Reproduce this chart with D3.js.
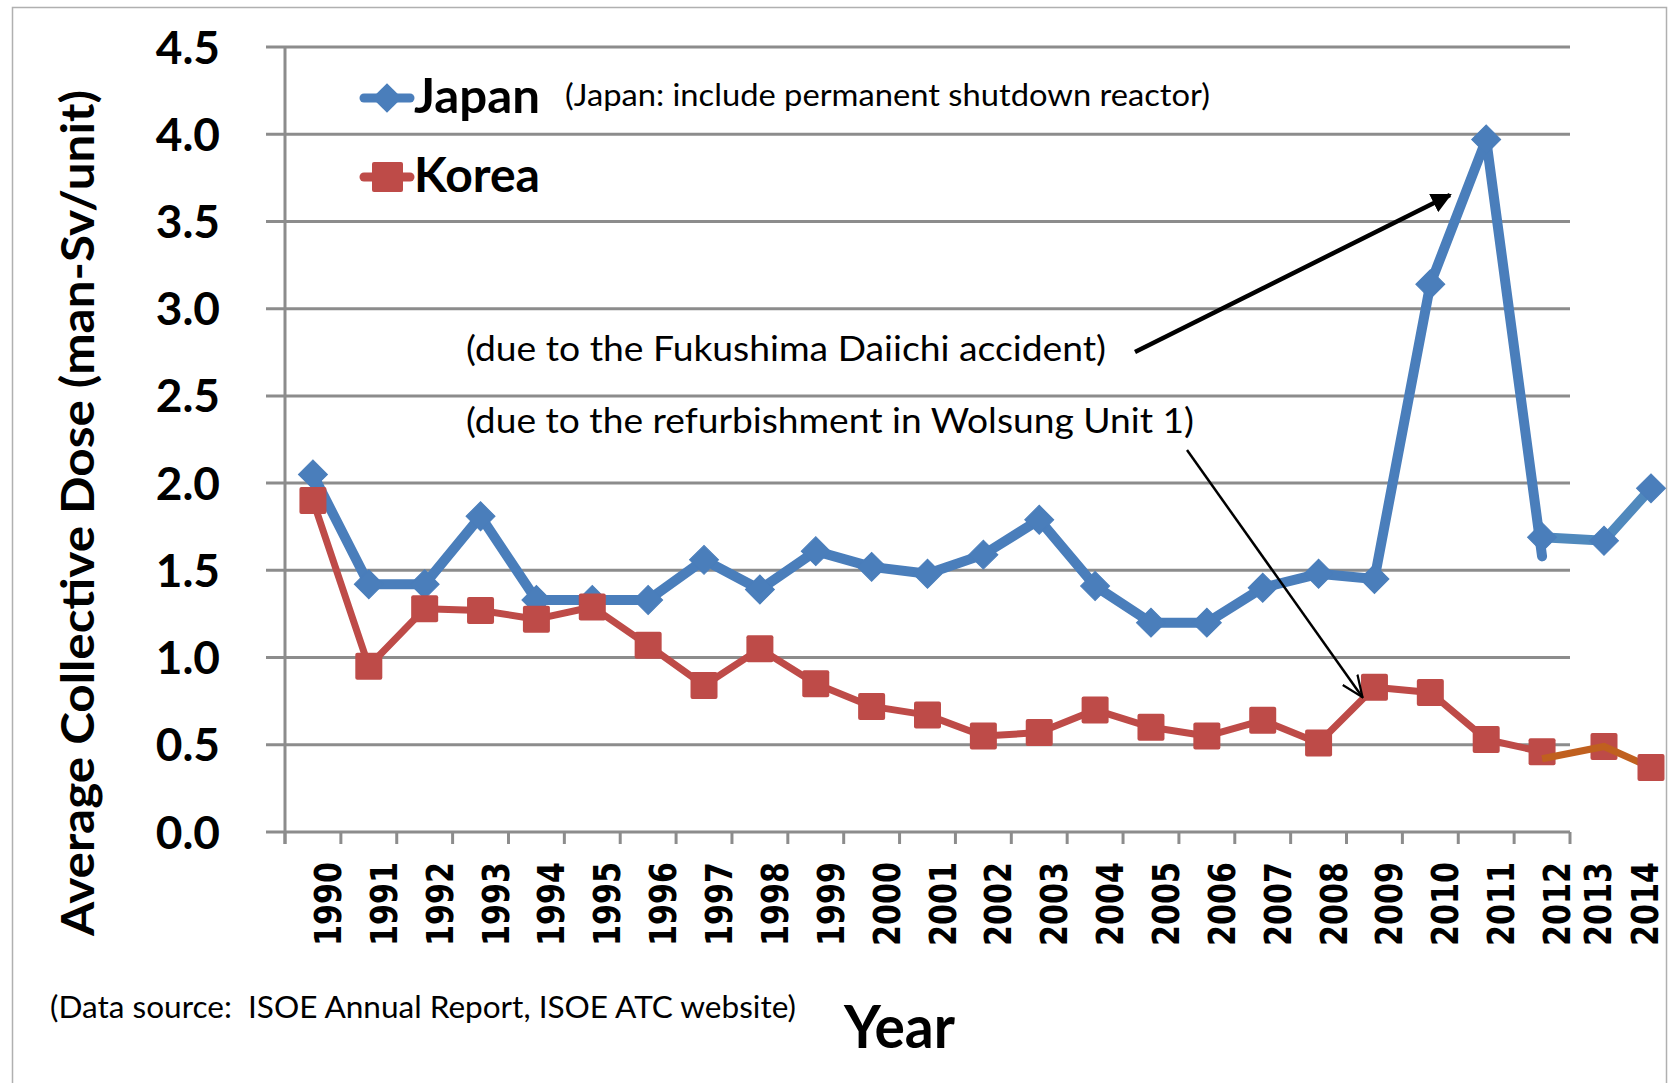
<!DOCTYPE html>
<html>
<head>
<meta charset="utf-8">
<script src="https://cdn.jsdelivr.net/npm/d3@7"></script>
<style>
  body { margin: 0; background: #fff; }
  svg { display: block; }
  text { white-space: pre; }
</style>
</head>
<body>
<div id="chart"></div>
<script>
// Values
const years = [1990, 1991, 1992, 1993, 1994, 1995, 1996, 1997, 1998, 1999, 2000, 2001, 2002,
               2003, 2004, 2005, 2006, 2007, 2008, 2009, 2010, 2011, 2012, 2013, 2014];
const japan = [2.05, 1.42, 1.42, 1.81, 1.33, 1.33, 1.33, 1.56, 1.39, 1.61, 1.52, 1.48, 1.59,
               1.79, 1.41, 1.20, 1.20, 1.40, 1.48, 1.45, 3.14, 3.97, 1.69, 1.67, 1.97];
const korea = [1.90, 0.95, 1.28, 1.27, 1.22, 1.29, 1.07, 0.84, 1.05, 0.85, 0.72, 0.67, 0.55,
               0.57, 0.70, 0.60, 0.55, 0.64, 0.51, 0.83, 0.80, 0.53, 0.46, 0.49, 0.37];
// the 2012 value before the later correction (end of the old Japan line)
const japanOld2012 = 1.58;
// hand-drawn update segment for Korea 2012-2014
const koreaUpdate = [0.42, 0.49, 0.37];
const yTicks = [0, 0.5, 1, 1.5, 2, 2.5, 3, 3.5, 4, 4.5];

const width = 1668, height = 1083;
const svg = d3.select("#chart").append("svg")
    .attr("width", width)
    .attr("height", height);

// outer frame
svg.append("rect")
    .attr("x", 12.5).attr("y", 7.5)
    .attr("width", 1654).attr("height", 1100)
    .attr("fill", "none")
    .attr("stroke", "#b0b0b0")
    .attr("stroke-width", 1.5);

const axisLeft = 285, axisRight = 1570;
const y = d3.scaleLinear().domain([0, 4.5]).range([832, 47]);
// band centres 1990..2012 in Excel's axis, 2013/2014 squeezed in past the axis end
const step = (axisRight - axisLeft) / 23;
const x = d3.scaleLinear()
    .domain([1990, 2012, 2013, 2014])
    .range([axisLeft + step / 2, axisLeft + 22.5 * step, 1604, 1651]);

const gridColor = "#8c8c8c";

// gridlines + y axis
svg.append("g")
    .selectAll("line")
    .data(yTicks)
    .enter().append("line")
    .attr("x1", 266).attr("x2", axisRight)
    .attr("y1", d => y(d)).attr("y2", d => y(d))
    .attr("stroke", gridColor)
    .attr("stroke-width", 3);

svg.append("line")
    .attr("x1", axisLeft).attr("x2", axisLeft)
    .attr("y1", y(4.5)).attr("y2", y(0) + 12)
    .attr("stroke", gridColor)
    .attr("stroke-width", 3);

// category tick marks
svg.append("g")
    .selectAll("line")
    .data(d3.range(24))
    .enter().append("line")
    .attr("x1", i => axisLeft + i * step).attr("x2", i => axisLeft + i * step)
    .attr("y1", y(0)).attr("y2", y(0) + 12)
    .attr("stroke", gridColor)
    .attr("stroke-width", 3);

// y tick labels
svg.append("g")
    .selectAll("text")
    .data(yTicks)
    .enter().append("text")
    .attr("x", 220)
    .attr("y", d => y(d))
    .attr("dy", "0.36em")
    .attr("text-anchor", "end")
    .attr("font-family", "Lato, sans-serif")
    .attr("font-weight", "bold")
    .attr("font-size", 46)
    .text(d => d.toFixed(1));

// x tick labels (rotated)
svg.append("g")
    .selectAll("text")
    .data(years)
    .enter().append("text")
    .attr("transform", d => `translate(${x(d) + (d <= 2012 ? 28 : 7)},862) rotate(-90)`)
    .attr("text-anchor", "end")
    .attr("font-family", "DejaVu Sans, sans-serif")
    .attr("font-weight", "bold")
    .attr("font-size", 37)
    .attr("textLength", 84)
    .attr("lengthAdjust", "spacingAndGlyphs")
    .text(d => d);

// axis titles
svg.append("text")
    .attr("transform", "translate(94,513) rotate(-90)")
    .attr("text-anchor", "middle")
    .attr("font-family", "Lato, sans-serif")
    .attr("font-weight", "bold")
    .attr("font-size", 45)
    .attr("textLength", 846)
    .attr("lengthAdjust", "spacingAndGlyphs")
    .text("Average Collective Dose (man-Sv/unit)");

svg.append("text")
    .attr("x", 844).attr("y", 1048)
    .attr("font-family", "Lato, sans-serif")
    .attr("font-weight", "bold")
    .attr("font-size", 60)
    .attr("textLength", 111)
    .attr("lengthAdjust", "spacingAndGlyphs")
    .text("Year");

svg.append("text")
    .attr("x", 50).attr("y", 1018)
    .attr("font-family", "Lato, sans-serif")
    .attr("font-size", 30)
    .attr("textLength", 746)
    .attr("lengthAdjust", "spacingAndGlyphs")
    .text("(Data source:  ISOE Annual Report, ISOE ATC website)");

const blue = "#4a7ebb", blue2 = "#5089bd", red = "#be4b48", orange = "#c0601f";

const line = d3.line().x(d => x(d.year)).y(d => y(d.v));
const japanPts = years.map((yr, i) => ({ year: yr, v: japan[i] }));
const koreaPts = years.map((yr, i) => ({ year: yr, v: korea[i] }));

// Japan: old Excel line up to 2012, then the updated segment
const japanOld = japanPts.filter(d => d.year <= 2011).concat([{ year: 2012, v: japanOld2012 }]);
svg.append("path")
    .attr("d", line(japanOld))
    .attr("fill", "none")
    .attr("stroke", blue)
    .attr("stroke-width", 10)
    .attr("stroke-linejoin", "round")
    .attr("stroke-linecap", "round");
svg.append("path")
    .attr("d", line(japanPts.filter(d => d.year >= 2012)))
    .attr("fill", "none")
    .attr("stroke", blue2)
    .attr("stroke-width", 10);

const diamond = d3.symbol().type(d3.symbolSquare).size(420);
svg.append("g")
    .selectAll("path")
    .data(japanPts)
    .enter().append("path")
    .attr("d", diamond)
    .attr("transform", d => `translate(${x(d.year)},${y(d.v)}) rotate(45)`)
    .attr("fill", blue)
    .attr("stroke", blue)
    .attr("stroke-width", 1);

// Korea
svg.append("path")
    .attr("d", line(koreaPts.filter(d => d.year <= 2012)))
    .attr("fill", "none")
    .attr("stroke", red)
    .attr("stroke-width", 7)
    .attr("stroke-linejoin", "round");

const sq = 27;
function squares(g, data) {
    g.selectAll("rect")
        .data(data)
        .enter().append("rect")
        .attr("x", d => x(d.year) - sq / 2)
        .attr("y", d => y(d.v) - sq / 2)
        .attr("width", sq).attr("height", sq)
        .attr("rx", 2)
        .attr("fill", red);
}
svg.append("g").call(squares, koreaPts.filter(d => d.year <= 2013));

svg.append("path")
    .attr("d", line(koreaUpdate.map((v, i) => ({ year: 2012 + i, v: v }))))
    .attr("fill", "none")
    .attr("stroke", orange)
    .attr("stroke-width", 7);

svg.append("g").call(squares, koreaPts.filter(d => d.year === 2014));

// Legend
const legend = svg.append("g");
const legendItems = [
    { name: "Japan", color: blue, cy: 98 },
    { name: "Korea", color: red, cy: 177 }
];
legend.selectAll("line")
    .data(legendItems)
    .enter().append("line")
    .attr("x1", 364).attr("x2", 410)
    .attr("y1", d => d.cy).attr("y2", d => d.cy)
    .attr("stroke", d => d.color)
    .attr("stroke-width", 9)
    .attr("stroke-linecap", "round");
legend.append("path")
    .attr("d", d3.symbol().type(d3.symbolSquare).size(440))
    .attr("transform", "translate(387,98) rotate(45)")
    .attr("fill", blue);
legend.append("rect")
    .attr("x", 372).attr("y", 162)
    .attr("width", 31).attr("height", 30)
    .attr("rx", 2)
    .attr("fill", red);
legend.selectAll("text")
    .data(legendItems)
    .enter().append("text")
    .attr("x", 414)
    .attr("y", d => d.cy + 15)
    .attr("font-family", "Lato, sans-serif")
    .attr("font-weight", "bold")
    .attr("font-size", 47)
    .attr("textLength", 126)
    .attr("lengthAdjust", "spacingAndGlyphs")
    .text(d => d.name);

svg.append("text")
    .attr("x", 565).attr("y", 106)
    .attr("font-family", "Lato, sans-serif")
    .attr("font-size", 30)
    .attr("textLength", 645)
    .attr("lengthAdjust", "spacingAndGlyphs")
    .text("(Japan: include permanent shutdown reactor)");

// Annotations
const defs = svg.append("defs");
defs.append("marker")
    .attr("id", "headFilled")
    .attr("viewBox", "0 0 10 10")
    .attr("refX", 9).attr("refY", 5)
    .attr("markerWidth", 4.5).attr("markerHeight", 4.5)
    .attr("markerUnits", "strokeWidth")
    .attr("orient", "auto")
    .append("path")
    .attr("d", "M0,0 L10,5 L0,10 z")
    .attr("fill", "#000");
defs.append("marker")
    .attr("id", "headOpen")
    .attr("viewBox", "0 0 10 10")
    .attr("refX", 9.5).attr("refY", 5)
    .attr("markerWidth", 9).attr("markerHeight", 9)
    .attr("markerUnits", "strokeWidth")
    .attr("orient", "auto")
    .append("path")
    .attr("d", "M0,1 L9.5,5 L0,9")
    .attr("fill", "none")
    .attr("stroke", "#000")
    .attr("stroke-width", 1);

svg.append("text")
    .attr("x", 466).attr("y", 361)
    .attr("font-family", "Lato, sans-serif")
    .attr("font-size", 35)
    .attr("textLength", 640)
    .attr("lengthAdjust", "spacingAndGlyphs")
    .text("(due to the Fukushima Daiichi accident)");
svg.append("line")
    .attr("x1", 1135).attr("y1", 352)
    .attr("x2", 1450).attr("y2", 195)
    .attr("stroke", "#000")
    .attr("stroke-width", 4.5)
    .attr("marker-end", "url(#headFilled)");

svg.append("text")
    .attr("x", 466).attr("y", 433)
    .attr("font-family", "Lato, sans-serif")
    .attr("font-size", 35)
    .attr("textLength", 728)
    .attr("lengthAdjust", "spacingAndGlyphs")
    .text("(due to the refurbishment in Wolsung Unit 1)");
svg.append("line")
    .attr("x1", 1187).attr("y1", 450)
    .attr("x2", x(2009) - 12).attr("y2", y(korea[19]) + 10)
    .attr("stroke", "#000")
    .attr("stroke-width", 2.5)
    .attr("marker-end", "url(#headOpen)");
</script>
</body>
</html>
